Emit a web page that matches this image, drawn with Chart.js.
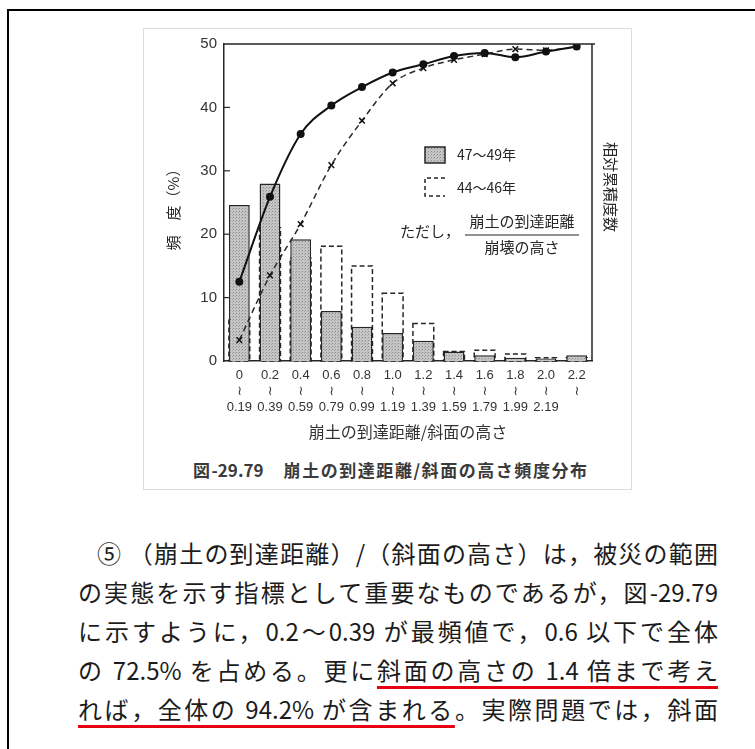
<!DOCTYPE html>
<html><head><meta charset="utf-8">
<script src="https://cdn.jsdelivr.net/npm/chart.js@4"></script>
<style>
html,body{margin:0;padding:0;background:#fff;width:755px;height:749px;overflow:hidden;}
#frame{position:absolute;left:7px;top:9px;width:800px;height:800px;border-left:2px solid #000;border-top:2px solid #000;}
#photo{position:absolute;left:143px;top:28px;width:487px;height:460px;border:1px solid #dcdcdc;}
#wrap{position:absolute;left:143px;top:28px;width:487px;height:423px;}
#caption{position:absolute;left:193px;top:458px;width:394px;font:bold 17px "Noto Sans CJK JP";color:#3a3a3a;white-space:nowrap;text-align:justify;text-align-last:justify;line-height:24px;}
.ln{position:absolute;left:78px;width:640px;font:400 24px "Noto Sans CJK JP";color:#1c1c1c;white-space:nowrap;text-align:justify;text-align-last:justify;line-height:30px;}
.u{text-decoration:underline;text-decoration-color:#e60012;text-decoration-thickness:3px;text-underline-offset:6px;}
</style></head>
<body>
<div id="frame"></div>
<div id="photo"></div>
<div id="wrap"><canvas id="c" width="487" height="423"></canvas></div>
<div id="caption">図-29.79　崩土の到達距離/斜面の高さ頻度分布</div>
<div class="ln" style="top:538px;left:97px;width:621px;">⑤ （崩土の到達距離）/（斜面の高さ）は，被災の範囲</div>
<div class="ln" style="top:577px;">の実態を示す指標として重要なものであるが，図-29.79</div>
<div class="ln" style="top:616px;">に示すように，0.2～0.39 が最頻値で，0.6 以下で全体</div>
<div class="ln" style="top:655px;">の 72.5% を占める。更に<span class="u">斜面の高さの 1.4 倍まで考え</span></div>
<div class="ln" style="top:694px;"><span class="u">れば，全体の 94.2% が含まれる</span>。実際問題では，斜面</div>
<script>
// ---- data ----
const categories = ['0','0.2','0.4','0.6','0.8','1.0','1.2','1.4','1.6','1.8','2.0','2.2'];
const upperEnds  = ['0.19','0.39','0.59','0.79','0.99','1.19','1.39','1.59','1.79','1.99','2.19',''];
const freq4749 = [24.6, 28.0, 19.2, 7.9, 5.4, 4.4, 3.2, 1.5, 0.9, 0.5, 0.4, 0.9];
const freq4446 = [6.6, 21.0, 16.2, 18.1, 15.0, 10.7, 5.9, 1.5, 1.7, 1.1, 0.5, 0.5];
const cum4749  = [12.5, 25.9, 35.8, 40.3, 43.2, 45.5, 46.8, 48.1, 48.6, 47.9, 48.8, 49.6];
const cum4446  = [3.3, 13.5, 21.6, 30.9, 37.9, 43.8, 46.2, 47.5, 48.4, 49.2, 49.0, 49.6];
const yTicks   = [0, 10, 20, 30, 40, 50];
const legendLabels = ['47～49年', '44～46年'];
const yTitle = '頻　度（%）';
const rightTitle = '相対累積度数';
const xTitle = '崩土の到達距離/斜面の高さ';
const noteLead = 'ただし，';
const noteNum = '崩土の到達距離';
const noteDen = '崩壊の高さ';

// stipple pattern for the solid bars
function makePattern(){
  const p = document.createElement('canvas'); p.width = 3; p.height = 3;
  const g = p.getContext('2d');
  g.fillStyle = '#c6c6c6'; g.fillRect(0,0,3,3);
  g.fillStyle = '#8c8c8c'; g.fillRect(0,0,1,1);
  g.fillStyle = '#a8a8a8'; g.fillRect(2,1,1,1);
  return document.getElementById('c').getContext('2d').createPattern(p,'repeat');
}
const pat = makePattern();
const INK = '#262626';
const TICKFONT = 'Liberation Sans, DejaVu Sans, sans-serif';
const JP = '"Noto Sans CJK JP", sans-serif';

const deco = {
  id: 'deco',
  beforeDatasetsDraw(chart){
    const ctx = chart.ctx;
    const meta = chart.getDatasetMeta(3);
    ctx.save();
    ctx.setLineDash([5,3]); ctx.lineWidth = 1.5; ctx.strokeStyle = INK;
    meta.data.forEach(el => {
      const {x, y, base, width} = el.getProps(['x','y','base','width'], true);
      ctx.strokeRect(x - width/2, y, width, base - y);
    });
    ctx.restore();
  },
  afterDatasetsDraw(chart){
    const ctx = chart.ctx, a = chart.chartArea, ys = chart.scales.y;
    ctx.save();
    // frame top & right
    ctx.strokeStyle = INK; ctx.lineWidth = 1.5;
    ctx.beginPath(); ctx.moveTo(a.left, a.top); ctx.lineTo(a.right + 3, a.top);
    ctx.moveTo(a.right, a.top); ctx.lineTo(a.right, a.bottom); ctx.stroke();
    // inner tick marks
    ctx.lineWidth = 1.2;
    yTicks.forEach(v => { if (v > 0 && v < 50) { const py = ys.getPixelForValue(v);
      ctx.beginPath(); ctx.moveTo(a.left, py); ctx.lineTo(a.left + 6, py); ctx.stroke(); }});
    // legend
    const lx = a.left + 201, ly1 = a.top + 103, ly2 = a.top + 134;
    ctx.fillStyle = pat; ctx.fillRect(lx, ly1, 20, 16);
    ctx.setLineDash([]); ctx.lineWidth = 1.5; ctx.strokeRect(lx, ly1, 20, 16);
    ctx.setLineDash([4,3]);
    ctx.beginPath(); ctx.moveTo(lx + 20, ly2); ctx.lineTo(lx, ly2); ctx.lineTo(lx, ly2 + 18); ctx.lineTo(lx + 20, ly2 + 18); ctx.stroke();
    ctx.setLineDash([]);
    ctx.fillStyle = INK; ctx.font = '14px ' + JP; ctx.textBaseline = 'middle'; ctx.textAlign = 'left';
    ctx.fillText(legendLabels[0], lx + 32, ly1 + 8);
    ctx.fillText(legendLabels[1], lx + 32, ly2 + 10);
    // note with fraction
    ctx.font = '15px ' + JP;
    ctx.fillText(noteLead, a.left + 176, a.top + 187);
    ctx.textAlign = 'center';
    const fx = a.left + 298;
    ctx.fillText(noteNum, fx, a.top + 177);
    ctx.fillText(noteDen, fx, a.top + 203);
    ctx.lineWidth = 1.2; ctx.beginPath(); ctx.moveTo(fx - 57, a.top + 191); ctx.lineTo(fx + 57, a.top + 191); ctx.stroke();
    // vertical titles
    ctx.font = '15px ' + JP;
    ctx.save(); ctx.translate(a.left - 51, a.top + 162); ctx.rotate(-Math.PI/2);
    ctx.fillText(yTitle, 0, 0); ctx.restore();
    ctx.save(); ctx.translate(a.right + 19, a.top + 143); ctx.rotate(Math.PI/2);
    ctx.fillText(rightTitle, 0, 0); ctx.restore();
    ctx.restore();
  }
};

new Chart(document.getElementById('c'), {
  data: {
    labels: categories,
    datasets: [
      {type:'line', label:'47～49年（累積）', data:cum4749, borderColor:'#111', borderWidth:2,
       pointRadius:3, pointBackgroundColor:'#111', pointBorderColor:'#111', cubicInterpolationMode:'monotone', order:0},
      {type:'line', label:'44～46年（累積）', data:cum4446, borderColor:'#2a2a2a', borderWidth:1.5, borderDash:[6,4],
       pointStyle:'crossRot', pointRadius:4, pointBorderWidth:1.5, pointBorderColor:'#111', cubicInterpolationMode:'monotone', order:1},
      {type:'bar', label:legendLabels[0], data:freq4749, backgroundColor:pat, borderColor:INK, borderWidth:1.5,
       barPercentage:0.68, categoryPercentage:1, grouped:false, order:2},
      {type:'bar', label:legendLabels[1], data:freq4446, backgroundColor:'rgba(0,0,0,0)', borderWidth:0,
       barPercentage:0.68, categoryPercentage:1, grouped:false, order:3}
    ]
  },
  options: {
    responsive:false, animation:false,
    layout:{padding:{top:15, right:38, left:0, bottom:0}},
    plugins:{legend:{display:false}, tooltip:{enabled:false}},
    scales:{
      x:{
        grid:{display:false, drawTicks:false},
        border:{display:true, color:INK, width:1.5},
        ticks:{padding:7, color:'#333', autoSkip:false, maxRotation:0,
               font:{family:TICKFONT, size:13, lineHeight:1.2},
               callback:(v,i)=>[categories[i], '≀', upperEnds[i]]},
        title:{display:true, text:xTitle, color:'#333', font:{family:JP, size:16, lineHeight:1.2}, padding:{top:0,bottom:9}},
        afterFit:(s)=>{ s.height = 90; }
      },
      y:{
        min:0, max:50,
        grid:{display:false, drawTicks:false},
        border:{display:true, color:INK, width:1.5},
        afterBuildTicks:(s)=>{ s.ticks = yTicks.map(v=>({value:v})); },
        ticks:{padding:7, color:'#333', font:{family:TICKFONT, size:15}},
        afterFit:(s)=>{ s.width = 81; }
      }
    }
  },
  plugins:[deco]
});
</script>
</body></html>
